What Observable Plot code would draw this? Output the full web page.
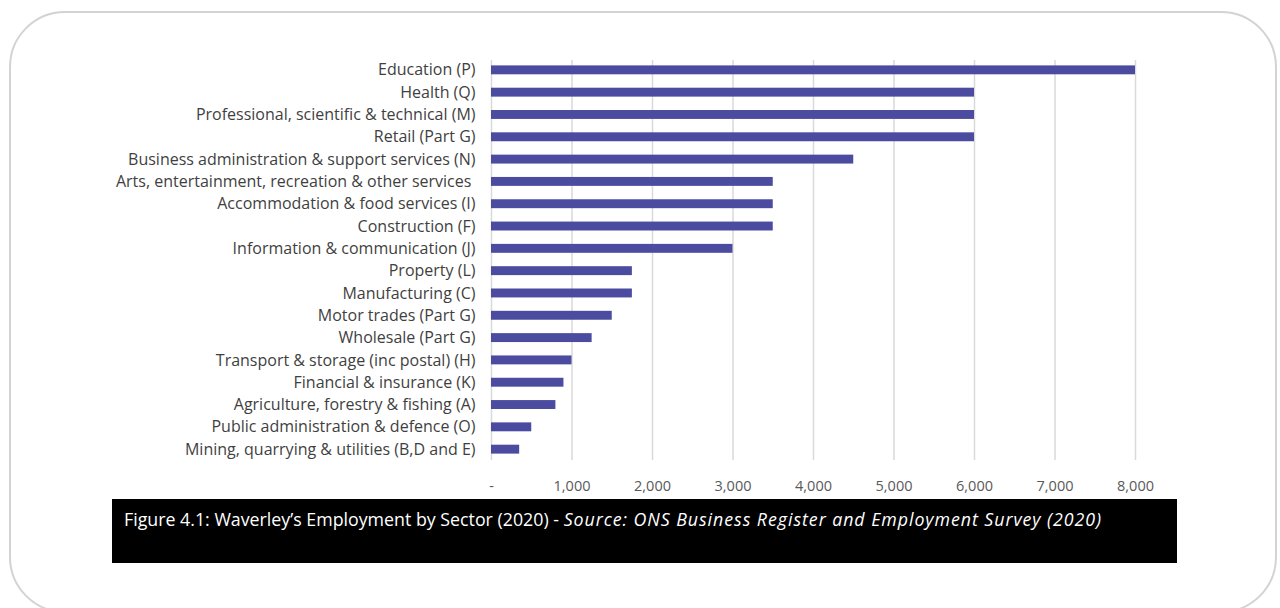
<!DOCTYPE html>
<html>
<head>
<meta charset="utf-8">
<script src="https://cdn.jsdelivr.net/npm/d3@7"></script>
<script src="https://cdn.jsdelivr.net/npm/@observablehq/plot@0.6"></script>
<style>
  html, body { margin: 0; padding: 0; background: #fff; }
  #page { position: relative; width: 1280px; height: 608px; overflow: hidden; background: #fff; }
  #frame { position: absolute; left: 9px; top: 11px; width: 1268px; height: 602px; border: 2px solid #d3d3d3; border-radius: 56px; box-sizing: border-box; }
  #chart { position: absolute; left: 0; top: 0; }
  #caption { position: absolute; left: 112px; top: 499px; width: 1065px; height: 64px; background: #000; color: #fff;
    font-family: "Open Sans", sans-serif; font-size: 17.8px; line-height: 24px; box-sizing: border-box; padding: 8px 0 0 12px; white-space: nowrap; }
  #caption i { font-style: italic; letter-spacing: 0.95px; }
</style>
</head>
<body>
<div id="page">
  <div id="frame"></div>
  <div id="chart"></div>
  <div id="caption">Figure 4.1: Waverley’s Employment by Sector (2020) - <i>Source: ONS Business Register and Employment Survey (2020)</i></div>
</div>
<script>
const sectors = [
  "Education (P)",
  "Health (Q)",
  "Professional, scientific & technical (M)",
  "Retail (Part G)",
  "Business administration & support services (N)",
  "Arts, entertainment, recreation & other services\u00a0",
  "Accommodation & food services (I)",
  "Construction (F)",
  "Information & communication (J)",
  "Property (L)",
  "Manufacturing (C)",
  "Motor trades (Part G)",
  "Wholesale (Part G)",
  "Transport & storage (inc postal) (H)",
  "Financial & insurance (K)",
  "Agriculture, forestry & fishing (A)",
  "Public administration & defence (O)",
  "Mining, quarrying & utilities (B,D and E)"
];
const employment = [8000, 6000, 6000, 6000, 4500, 3500, 3500, 3500, 3000, 1750, 1750, 1500, 1250, 1000, 900, 800, 500, 350];
const xTicks = [0, 1000, 2000, 3000, 4000, 5000, 6000, 7000, 8000];

const data = sectors.map((s, i) => ({sector: s, value: employment[i]}));
const fmt = d3.format(",");

const chart = Plot.plot({
  width: 1280,
  height: 500,
  marginLeft: 491,
  marginRight: 145,
  marginTop: 52,
  marginBottom: 33,
  style: {fontFamily: "'Open Sans', sans-serif", fontSize: "15px", color: "#3f3f3f", background: "transparent"},
  x: {domain: [0, 8000]},
  y: {domain: sectors, padding: 0.6, round: false},
  marks: [
    Plot.gridX(xTicks, {stroke: "#d9d9d9", strokeOpacity: 1, strokeWidth: 1.5, insetTop: 8, insetBottom: 7}),
    Plot.barX(data, {x: "value", y: "sector", fill: "#4b4c9f"}),
    Plot.axisY({tickSize: 0, tickPadding: 16, label: null, fontSize: 16}),
    Plot.axisX({ticks: xTicks, tickFormat: d => d === 0 ? "-" : fmt(d), tickSize: 0, tickPadding: 13, label: null, fontSize: 14.5, fill: "#595959"})
  ]
});
document.getElementById("chart").appendChild(chart);
</script>
</body>
</html>
